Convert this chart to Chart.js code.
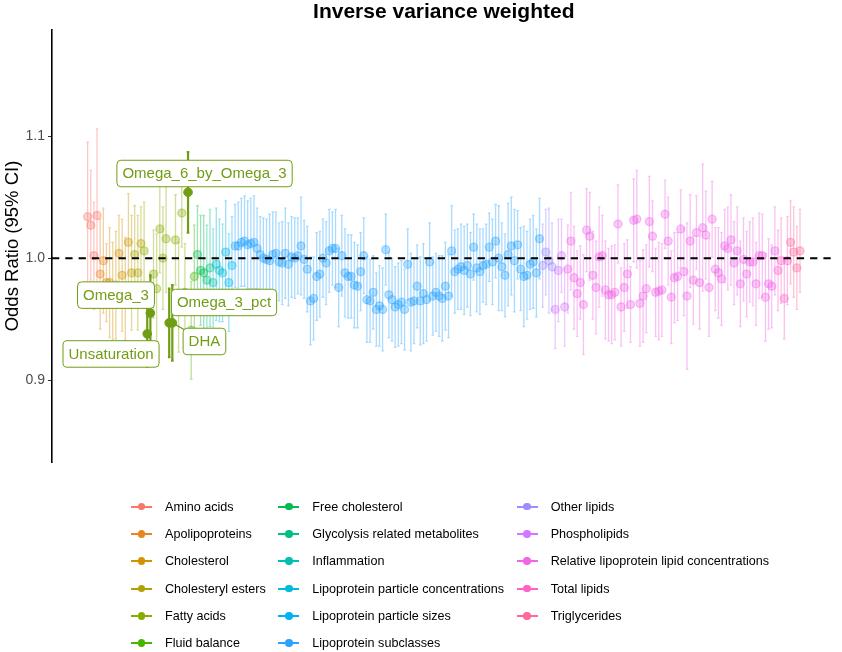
<!DOCTYPE html>
<html><head><meta charset="utf-8">
<script src="https://cdn.jsdelivr.net/npm/chart.js@4.4.1/dist/chart.umd.min.js"></script>
<style>
html,body{margin:0;padding:0;background:#fff;}
#wrap{position:relative;width:842px;height:652px;overflow:hidden;background:#fff;}
canvas{position:absolute;left:0;top:0;}
#legend{position:absolute;left:131px;top:493px;display:grid;grid-template-rows:repeat(6,27.3px);grid-auto-flow:column;column-gap:12.5px;font-family:"Liberation Sans",Arial,sans-serif;font-size:12.6px;color:#000;}
.item{display:flex;align-items:center;white-space:nowrap;}
.key{position:relative;width:21px;height:12px;margin-right:13px;flex:none;}
.key .ln{position:absolute;left:0;right:0;top:5px;height:2px;}
.key .dt{position:absolute;left:6.75px;top:2.25px;width:7.5px;height:7.5px;border-radius:50%;}
</style></head>
<body><div id="wrap"><canvas id="c" width="842" height="652"></canvas><div id="legend"></div></div>
<script>
const FONT = '"Liberation Sans", Arial, sans-serif';

const chartTitle = 'Inverse variance weighted';
const yAxisTitle = 'Odds Ratio (95% CI)';
const categories = ['Amino acids','Apolipoproteins','Cholesterol','Cholesteryl esters','Fatty acids','Fluid balance','Free cholesterol','Glycolysis related metabolites','Inflammation','Lipoprotein particle concentrations','Lipoprotein particle sizes','Lipoprotein subclasses','Other lipids','Phospholipids','Relative lipoprotein lipid concentrations','Total lipids','Triglycerides'];
const categoryCounts = [4,3,7,4,15,2,3,2,1,3,3,98,4,4,67,4,4];

const orValues = [
1.034,1.027,1.002,1.035,0.987,0.998,0.980,0.980,0.973,0.978,
1.004,0.986,0.975,1.013,0.988,1.003,0.988,1.012,1.006,0.938,
0.955,0.987,0.975,1.024,1.000,1.016,0.947,0.947,1.015,0.968,
1.037,0.972,1.054,0.941,0.985,1.003,0.990,0.988,0.982,0.992,
0.980,0.995,0.990,0.988,1.005,0.980,0.994,1.010,1.010,1.013,
1.014,1.011,1.012,1.013,1.008,1.003,1.000,0.999,0.998,1.003,
1.004,0.997,0.996,1.004,0.995,1.001,1.000,1.002,1.010,0.999,
0.991,0.965,0.967,0.985,0.987,1.000,0.996,1.006,1.008,1.008,
0.976,1.002,0.988,0.985,0.985,0.978,0.977,0.989,1.002,0.966,
0.965,0.972,0.958,0.961,0.958,1.007,0.970,0.966,0.960,0.962,
0.964,0.958,0.995,0.964,0.965,0.977,0.965,0.971,0.966,0.997,
0.969,0.972,0.969,0.967,0.977,0.969,1.006,0.989,0.991,0.993,
0.990,0.994,0.987,1.009,0.992,0.989,0.994,0.995,1.009,0.997,
1.014,1.000,0.993,0.986,1.003,1.010,0.998,1.011,0.991,0.985,
0.986,0.995,0.997,0.988,1.016,0.994,1.005,0.998,0.993,0.958,
0.990,1.002,0.960,0.991,1.014,0.984,0.971,0.980,0.962,1.023,
1.018,0.986,0.976,1.001,1.002,0.974,0.970,0.970,0.972,1.028,
0.960,0.976,0.987,0.962,1.031,1.032,0.963,0.969,0.975,1.030,
1.018,0.972,0.973,0.974,1.036,1.014,0.968,0.984,0.985,1.024,
0.989,0.969,1.014,0.982,1.021,0.980,1.025,1.019,0.976,1.032,
0.991,0.988,0.983,1.010,1.008,1.015,0.996,1.006,0.979,0.999,
0.987,0.997,0.997,0.979,1.002,1.002,0.968,0.979,0.977,1.006,
0.990,0.998,0.967,0.998,1.013,1.005,0.992,1.006];

const ciHalf = [
0.061,0.045,0.044,0.071,0.045,0.043,0.032,0.045,0.040,0.044,
0.031,0.046,0.042,0.040,0.047,0.040,0.047,0.030,0.040,0.027,
0.031,0.036,0.045,0.036,0.042,0.044,0.028,0.031,0.037,0.045,
0.028,0.040,0.033,0.040,0.042,0.040,0.045,0.047,0.045,0.048,
0.044,0.046,0.042,0.040,0.042,0.040,0.040,0.034,0.036,0.036,
0.037,0.036,0.037,0.038,0.033,0.031,0.033,0.033,0.038,0.035,
0.034,0.032,0.034,0.037,0.034,0.033,0.033,0.031,0.040,0.032,
0.035,0.036,0.034,0.036,0.035,0.032,0.034,0.034,0.030,0.032,
0.032,0.033,0.036,0.034,0.034,0.035,0.034,0.032,0.031,0.035,
0.034,0.030,0.030,0.033,0.034,0.029,0.035,0.034,0.033,0.034,
0.034,0.033,0.029,0.040,0.035,0.034,0.036,0.041,0.034,0.032,
0.032,0.032,0.033,0.035,0.036,0.034,0.037,0.034,0.033,0.035,
0.036,0.034,0.034,0.027,0.036,0.035,0.030,0.033,0.028,0.035,
0.030,0.043,0.036,0.034,0.042,0.040,0.042,0.028,0.034,0.041,
0.036,0.037,0.038,0.036,0.033,0.034,0.035,0.043,0.036,0.032,
0.042,0.030,0.032,0.036,0.040,0.042,0.035,0.030,0.041,0.034,
0.036,0.036,0.038,0.041,0.033,0.040,0.038,0.040,0.039,0.032,
0.032,0.036,0.028,0.031,0.034,0.040,0.035,0.038,0.036,0.037,
0.029,0.036,0.040,0.038,0.028,0.036,0.038,0.037,0.036,0.032,
0.036,0.060,0.038,0.036,0.030,0.038,0.052,0.036,0.040,0.031,
0.034,0.037,0.038,0.030,0.034,0.037,0.034,0.036,0.035,0.034,
0.035,0.033,0.036,0.034,0.035,0.034,0.036,0.037,0.034,0.036,
0.033,0.035,0.033,0.036,0.034,0.037,0.034,0.034];

const yTicks = [0.9, 1.0, 1.1];
const refLine = 1.0;
const highlightIdx = [32, 20, 26, 27, 19];
const highlightNames = ['Omega_6_by_Omega_3', 'Omega_3', 'Omega_3_pct', 'DHA', 'Unsaturation'];

// label box placement (pixel offsets from each highlighted point) - styling only
const labelStyle = [
  {dx: 16.5, dy: -18.8},
  {dx: -34.4, dy: -18},
  {dx: 54.8, dy: -20.4},
  {dx: 32.1, dy: 18.6, segment: true},
  {dx: -36.2, dy: 20.1}
];

function hclToRgb(h, c, l) {
  const rad = h * Math.PI / 180;
  const u = c * Math.cos(rad), v = c * Math.sin(rad);
  const Xn = 95.047, Yn = 100, Zn = 108.883;
  const den = Xn + 15 * Yn + 3 * Zn;
  const un = 4 * Xn / den, vn = 9 * Yn / den;
  const Y = l > 8 ? Yn * Math.pow((l + 16) / 116, 3) : Yn * l / 903.3;
  const up = u / (13 * l) + un, vp = v / (13 * l) + vn;
  const X = 9 * Y * up / (4 * vp);
  const Z = (12 - 3 * up - 20 * vp) * Y / (4 * vp);
  const x = X / 100, y = Y / 100, z = Z / 100;
  const lin = [3.2404542 * x - 1.5371385 * y - 0.4985314 * z,
               -0.9692660 * x + 1.8760108 * y + 0.0415560 * z,
               0.0556434 * x - 0.2040259 * y + 1.0572252 * z];
  return lin.map(t => {
    const g = t <= 0.0031308 ? 12.92 * t : 1.055 * Math.pow(t, 1 / 2.4) - 0.055;
    return Math.round(255 * Math.min(1, Math.max(0, g)));
  });
}
const palette = categories.map((_, k) => hclToRgb(15 + k * 360 / categories.length, 100, 65));
const rgba = (c, a) => `rgba(${c[0]},${c[1]},${c[2]},${a})`;

const pointCat = [];
categoryCounts.forEach((n, k) => { for (let j = 0; j < n; j++) pointCat.push(k); });

const datasets = [];
categories.forEach((name, k) => {
  const pts = [];
  orValues.forEach((v, i) => {
    if (pointCat[i] === k && !highlightIdx.includes(i)) pts.push({x: i, y: v, lo: v - ciHalf[i], hi: v + ciHalf[i]});
  });
  datasets.push({
    label: name, data: pts, order: 1,
    backgroundColor: rgba(palette[k], 0.33), borderColor: rgba(palette[k], 0.4),
    pointRadius: 4, pointBorderWidth: 1.3, pointHoverRadius: 4,
    barColor: rgba(palette[k], 0.4), barWidth: 1.3
  });
});
const hlPts = highlightIdx.map((i, j) => ({x: i, y: orValues[i], lo: orValues[i] - ciHalf[i], hi: orValues[i] + ciHalf[i], name: highlightNames[j]}));
// highlighted fatty-acid marks are drawn in a deeper shade of the category colour
const hlColor = [112, 157, 20];
datasets.push({
  label: 'highlight', data: hlPts, order: 0,
  backgroundColor: rgba(hlColor, 1), borderColor: rgba(hlColor, 1),
  pointRadius: 4.3, pointBorderWidth: 1, pointHoverRadius: 4.3,
  barColor: rgba(hlColor, 1), barWidth: 2.2
});

const errorBars = {
  id: 'errorBars',
  beforeDatasetDraw(chart, args) {
    const ds = chart.data.datasets[args.index];
    const {ctx, scales: {x, y}} = chart;
    ctx.save();
    ctx.strokeStyle = ds.barColor;
    ctx.lineWidth = ds.barWidth;
    ds.data.forEach(p => {
      const px = x.getPixelForValue(p.x);
      const t = y.getPixelForValue(p.hi), b = y.getPixelForValue(p.lo);
      ctx.beginPath();
      ctx.moveTo(px, t); ctx.lineTo(px, b);
      ctx.moveTo(px - 1.3, t); ctx.lineTo(px + 1.3, t);
      ctx.moveTo(px - 1.3, b); ctx.lineTo(px + 1.3, b);
      ctx.stroke();
    });
    ctx.restore();
  }
};

const refLinePlugin = {
  id: 'refLine',
  afterDatasetsDraw(chart) {
    const {ctx, chartArea, scales: {y}} = chart;
    const py = y.getPixelForValue(refLine);
    ctx.save();
    ctx.strokeStyle = '#000';
    ctx.lineWidth = 2;
    ctx.setLineDash([7.3, 6]);
    ctx.beginPath();
    ctx.moveTo(chartArea.left, py); ctx.lineTo(chartArea.right, py);
    ctx.stroke();
    ctx.restore();
  }
};

const labelPlugin = {
  id: 'labels',
  afterDraw(chart) {
    const {ctx, chartArea, scales: {x, y}} = chart;
    const col = rgba(hlColor, 1);
    ctx.save();
    ctx.font = `15px ${FONT}`;
    hlPts.forEach((p, j) => {
      const st = labelStyle[j];
      const px = x.getPixelForValue(p.x), py = y.getPixelForValue(p.y);
      const cx = px + st.dx, cy = py + st.dy;
      const w = ctx.measureText(p.name).width + 11, h = 26.5;
      const bx = cx - w / 2, by = cy - h / 2;
      if (st.segment) {
        ctx.strokeStyle = col; ctx.lineWidth = 1.2;
        ctx.beginPath(); ctx.moveTo(px, py); ctx.lineTo(bx + 4, by + 3); ctx.stroke();
      }
      ctx.beginPath();
      ctx.roundRect(bx, by, w, h, 4);
      ctx.fillStyle = '#fff'; ctx.fill();
      ctx.strokeStyle = col; ctx.lineWidth = 1; ctx.stroke();
      ctx.fillStyle = col;
      ctx.textAlign = 'center'; ctx.textBaseline = 'middle';
      ctx.fillText(p.name, cx, cy + 0.5);
    });
    ctx.fillStyle = '#000';
    ctx.font = `bold 21px ${FONT}`;
    ctx.textAlign = 'center'; ctx.textBaseline = 'middle';
    ctx.fillText(chartTitle, (chartArea.left + chartArea.right) / 2, 12);
    ctx.restore();
  }
};

const nPts = orValues.length;
const pad = (nPts - 1) * 0.05;

new Chart(document.getElementById('c'), {
  type: 'scatter',
  data: {datasets},
  plugins: [errorBars, refLinePlugin, labelPlugin],
  options: {
    responsive: false, animation: false, events: [],
    layout: {padding: {left: 0, right: 6.4, top: 30, bottom: 190}},
    plugins: {legend: {display: false}, tooltip: {enabled: false}, title: {display: false}},
    scales: {
      x: {type: 'linear', display: false, min: -pad, max: nPts - 1 + pad},
      y: {
        min: 0.833, max: 1.187,
        afterFit(s) { s.width = 52; s.paddingTop = 0; s.paddingBottom = 0; },
        afterBuildTicks(s) { s.ticks = yTicks.map(v => ({value: v})); },
        ticks: {callback: v => Number(v).toFixed(1), color: '#4d4d4d', font: {family: FONT, size: 14}, padding: 3},
        grid: {display: true, drawOnChartArea: false, drawTicks: true, tickLength: 4, color: '#333', lineWidth: 1},
        border: {display: true, color: '#000', width: 1.6},
        title: {display: true, text: yAxisTitle, color: '#000', font: {family: FONT, size: 18.5}, padding: {top: 2, bottom: 0}}
      }
    }
  }
});

const leg = document.getElementById('legend');
categories.forEach((name, k) => {
  const c = rgba(palette[k], 1);
  const it = document.createElement('div');
  it.className = 'item';
  it.innerHTML = `<span class="key"><span class="ln" style="background:${c}"></span><span class="dt" style="background:${c}"></span></span><span>${name}</span>`;
  leg.appendChild(it);
});
</script></body></html>
